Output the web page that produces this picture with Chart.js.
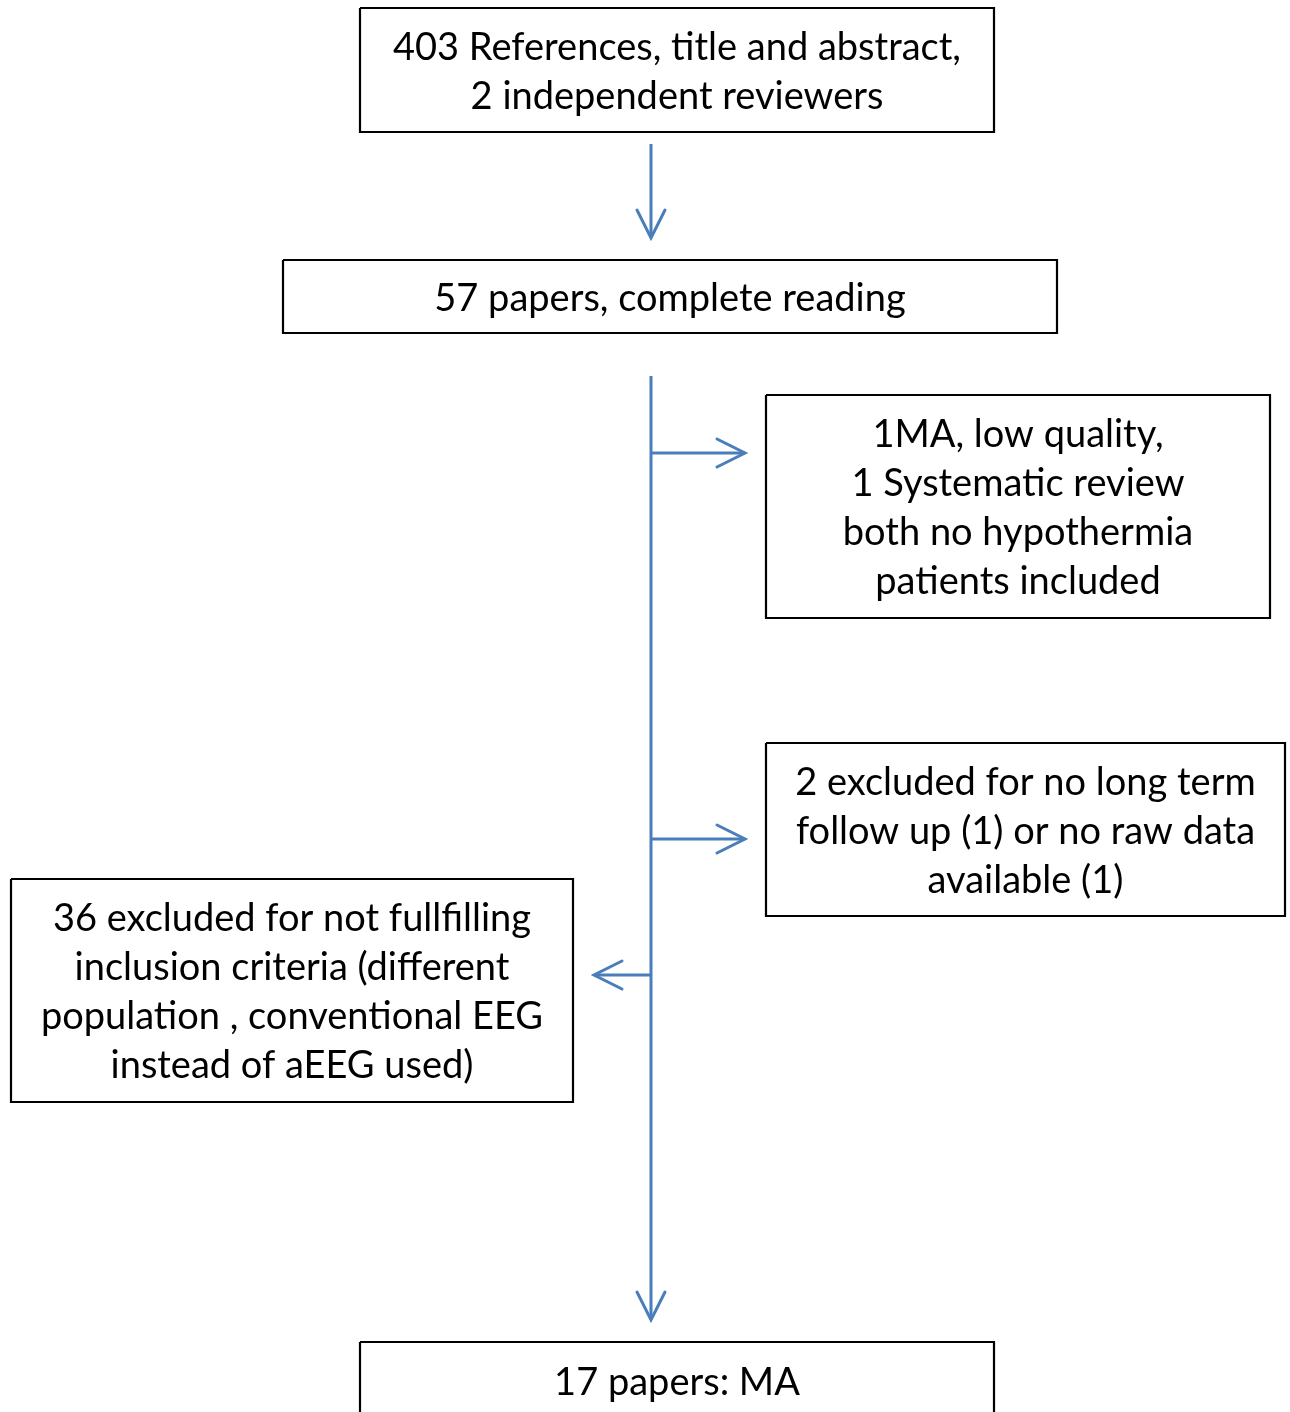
<!DOCTYPE html>
<html>
<head>
<meta charset="utf-8">
<script src="https://cdn.jsdelivr.net/npm/chart.js@4"></script>
<style>
  html, body { margin: 0; padding: 0; background: #fff; }
  #wrap { width: 1290px; height: 1412px; position: relative; }
</style>
</head>
<body>
<div id="wrap"><canvas id="flowchart"></canvas></div>
<script>
// flow steps (text of each box)
var stepLabels = [
	["403 References, title and abstract,", "2 independent reviewers"],
	["57 papers, complete reading"],
	["1MA, low quality,", "1 Systematic review", "both no hypothermia", "patients included"],
	["2 excluded for no long term", "follow up (1) or no raw data", "available (1)"],
	["36 excluded for not fullfilling", "inclusion criteria (different", "population , conventional EEG", "instead of aEEG used)"],
	["17 papers: MA"]
];

// layout of the boxes in page units: [left, top, right, bottom]
var boxRects = [
	[360, 8, 994, 132],
	[283, 260, 1057, 333],
	[766, 395, 1270, 618],
	[766, 743, 1285, 916],
	[11, 879, 573, 1102],
	[360, 1342, 994, 1430]
];

// connectors: [x1, y1, x2, y2], arrow head at the second point
var arrowLines = [
	[651, 144, 651, 238],
	[651, 376, 651, 1320],
	[651, 453, 745, 453],
	[651, 839, 745, 839],
	[651, 975, 594, 975]
];

var blue = "#4a7ebb";
var datasets = [];

boxRects.forEach(function(r) {
	datasets.push({
		data: [{x:r[0],y:r[1]},{x:r[2],y:r[1]},{x:r[2],y:r[3]},{x:r[0],y:r[3]},{x:r[0],y:r[1]}],
		showLine: true,
		borderColor: "#000",
		borderWidth: 2.2,
		pointRadius: 0,
		fill: false,
		clip: false
	});
});

arrowLines.forEach(function(a) {
	datasets.push({
		data: [{x:a[0],y:a[1]},{x:a[2],y:a[3]}],
		showLine: true,
		borderColor: blue,
		borderWidth: 3,
		pointRadius: 0,
		clip: false
	});
	// open arrow head
	var dx = a[2]-a[0], dy = a[3]-a[1];
	var len = Math.sqrt(dx*dx+dy*dy);
	var ux = dx/len, uy = dy/len;
	var hl = 28, hw = 14;
	datasets.push({
		data: [
			{x:a[2]-ux*hl-uy*hw, y:a[3]-uy*hl+ux*hw},
			{x:a[2], y:a[3]},
			{x:a[2]-ux*hl+uy*hw, y:a[3]-uy*hl-ux*hw}
		],
		showLine: true,
		borderColor: blue,
		borderWidth: 3,
		borderCapStyle: "round",
		borderJoinStyle: "miter",
		pointRadius: 0,
		clip: false
	});
});

var boxText = {
	id: "boxText",
	afterDatasetsDraw: function(chart) {
		var c = chart.ctx;
		var sx = chart.scales.x, sy = chart.scales.y;
		c.save();
		c.fillStyle = "#000";
		c.font = "38px Lato, 'Open Sans', sans-serif";
		c.textAlign = "center";
		c.textBaseline = "middle";
		stepLabels.forEach(function(lines, i) {
			var r = boxRects[i];
			var cx = sx.getPixelForValue((r[0]+r[2])/2);
			var midY = (i === 5 ? 1381 : (r[1]+r[3])/2) + 2;
			var lh = 49;
			lines.forEach(function(t, k) {
				var yv = midY + (k - (lines.length-1)/2)*lh;
				c.fillText(t, cx, sy.getPixelForValue(yv));
			});
		});
		c.restore();
	}
};

var chart = new Chart(document.getElementById("flowchart"), {
	type: "scatter",
	data: { datasets: datasets },
	options: {
		responsive: true,
		maintainAspectRatio: false,
		animation: false,
		layout: { padding: 0 },
		plugins: { legend: { display: false }, tooltip: { enabled: false } },
		scales: {
			x: { type: "linear", min: 0, max: 1290, display: false },
			y: { type: "linear", min: 0, max: 1412, reverse: true, display: false }
		}
	},
	plugins: [boxText]
});
</script>
</body>
</html>
